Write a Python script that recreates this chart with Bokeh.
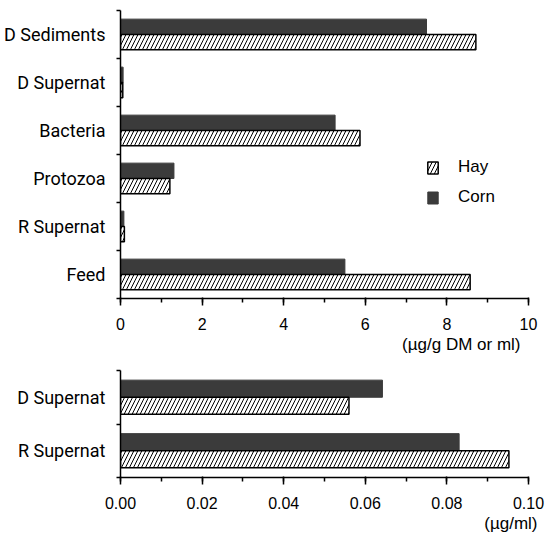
from bokeh.plotting import figure
from bokeh.layouts import column
from bokeh.models import (FixedTicker, SingleIntervalTicker, Range1d, Legend, LegendItem,
                          Title, NumeralTickFormatter)
from bokeh.embed import file_html
from bokeh.resources import INLINE

# ---- data ----
top_categories = ["D Sediments", "D Supernat", "Bacteria", "Protozoa", "R Supernat", "Feed"]
top_hay = [8.71, 0.056, 5.87, 1.21, 0.095, 8.57]
top_corn = [7.50, 0.064, 5.26, 1.31, 0.083, 5.50]
top_ticks = [0, 2, 4, 6, 8, 10]
top_unit = "(\u00b5g/g DM or ml)"

bot_categories = ["D Supernat", "R Supernat"]
bot_hay = [0.056, 0.0952]
bot_corn = [0.0642, 0.083]
bot_ticks = [0.00, 0.02, 0.04, 0.06, 0.08, 0.10]
bot_unit = "(\u00b5g/ml)"

series_names = ["Hay", "Corn"]

CAT_FONT = "Roboto"
NUM_FONT = "Liberation Sans"
CORN = "#3b3b3b"
BAR_H = 0.32


def make_panel(categories, hay, corn, ticks, interval, fmt, unit, frame_h, top_border, bottom_border,
               unit_offset, legend=False):
    n = len(categories)
    centers = [n - 1 - i + 0.5 for i in range(n)]
    p = figure(frame_width=408, frame_height=frame_h, output_backend="svg", toolbar_location=None,
               x_range=Range1d(ticks[0], ticks[-1]), y_range=Range1d(0, n),
               min_border_left=120, min_border_right=21, min_border_top=top_border,
               min_border_bottom=bottom_border)
    p.outline_line_color = None
    p.grid.visible = False
    p.background_fill_color = "white"

    corn_r = p.hbar(y=[c + BAR_H / 2 for c in centers], right=corn, left=0, height=BAR_H,
                    fill_color=CORN, line_color=CORN, line_width=1)
    hay_r = p.hbar(y=[c - BAR_H / 2 for c in centers], right=hay, left=0, height=BAR_H,
                   fill_color="white", line_color="black", line_width=1.5,
                   hatch_pattern="/", hatch_color="black", hatch_weight=1, hatch_scale=8)

    # x axis
    xa = p.xaxis[0]
    xa.ticker = SingleIntervalTicker(interval=interval, num_minor_ticks=2)
    if fmt:
        xa.formatter = NumeralTickFormatter(format=fmt)
    xa.axis_line_width = 1.5
    xa.axis_line_color = "black"
    xa.major_tick_out = 7
    xa.major_tick_in = 1
    xa.major_tick_line_width = 1.5
    xa.minor_tick_out = 4
    xa.minor_tick_in = 0
    xa.minor_tick_line_width = 1.5
    xa.major_label_text_font = NUM_FONT
    xa.major_label_text_font_size = "16px"
    xa.major_label_text_color = "black"
    xa.major_label_standoff = 12

    # y axis: labels at centers, ticks at boundaries
    ya = p.yaxis[0]
    ya.ticker = FixedTicker(ticks=centers, minor_ticks=list(range(n + 1)))
    ya.major_label_overrides = {c: categories[i] for i, c in enumerate(centers)}
    ya.major_tick_out = 0
    ya.major_tick_in = 0
    ya.minor_tick_out = 4
    ya.minor_tick_in = 0
    ya.minor_tick_line_width = 1.5
    ya.axis_line_width = 1.5
    ya.axis_line_color = "black"
    ya.major_label_text_font = CAT_FONT
    ya.major_label_text_font_size = "18px"
    ya.major_label_text_color = "black"
    ya.major_label_standoff = 11

    t = Title(text=unit, align="right", offset=unit_offset, text_font=NUM_FONT,
              text_font_size="17px", text_font_style="normal", text_color="black",
              standoff=0)
    p.add_layout(t, "below")

    if legend:
        lg = Legend(items=[LegendItem(label=series_names[0], renderers=[hay_r]),
                           LegendItem(label=series_names[1], renderers=[corn_r])],
                    location=(306, 91), orientation="vertical",
                    glyph_width=13, glyph_height=15, label_height=15, spacing=10,
                    label_standoff=19, padding=0, margin=0,
                    border_line_color=None, background_fill_alpha=0,
                    label_text_font=NUM_FONT, label_text_font_size="17px",
                    label_text_color="black")
        p.add_layout(lg)
    return p


p1 = make_panel(top_categories, top_hay, top_corn, top_ticks, 2, None, top_unit,
                frame_h=288, top_border=10, bottom_border=62, unit_offset=8, legend=True)
p2 = make_panel(bot_categories, bot_hay, bot_corn, bot_ticks, 0.02, "0.00", bot_unit,
                frame_h=107, top_border=10, bottom_border=60, unit_offset=-9)

layout = column(p1, p2, spacing=0)
open("out.html", "w").write(file_html(layout, INLINE))
